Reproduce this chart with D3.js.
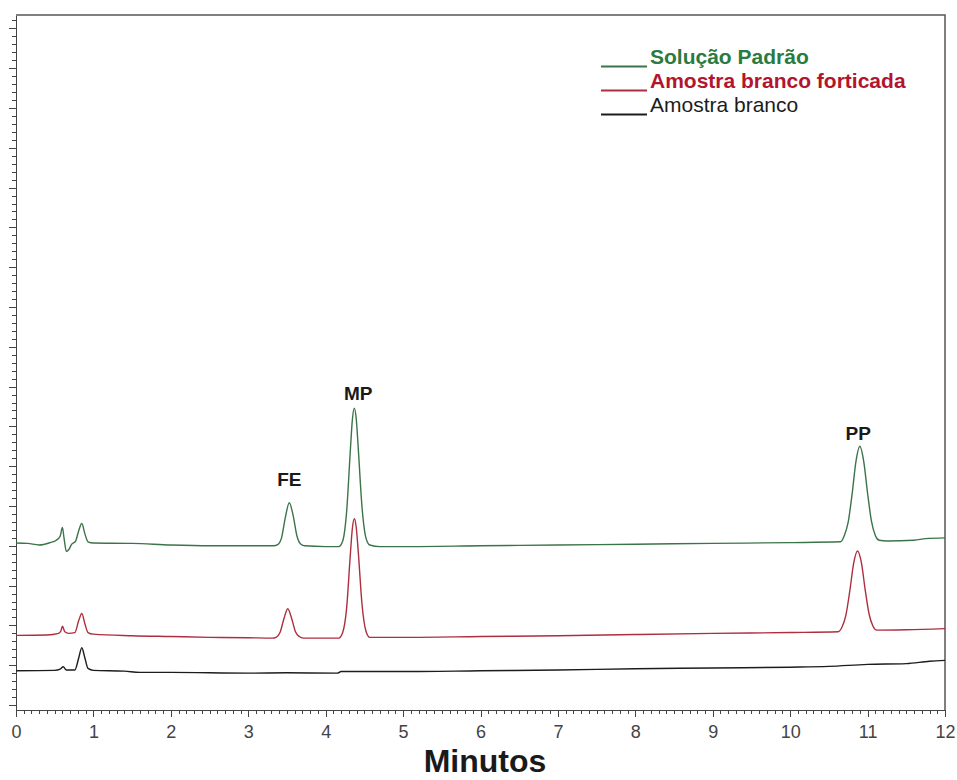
<!DOCTYPE html>
<html lang="pt">
<head>
<meta charset="utf-8">
<title>Cromatograma</title>
<script src="https://d3js.org/d3.v7.min.js"></script>
<style>
body { margin: 0; background: #fff; }
svg { display: block; font-family: "Liberation Sans", Arial, sans-serif; }
.trace { fill: none; stroke-width: 1.4; stroke-linejoin: round; }
.axis path, .axis line { stroke: #444; shape-rendering: crispEdges; }
.axis text { fill: #444; font-size: 18px; }
</style>
</head>
<body>
<script>
// time (min) / signal (arbitrary units)
var solucaoPadrao = [[0,20.35],[0.15,20.3],[0.3,20.1],[0.44,20.4],[0.52,20.7],[0.57,21.2],[0.60,22.3],[0.62,21.0],[0.65,19.3],[0.68,19.5],[0.72,20.2],[0.77,20.6],[0.81,21.9],[0.85,22.8],[0.89,21.5],[0.93,20.5],[1.0,20.35],[1.5,20.3],[2.0,20.1],[2.5,20.0],[3.0,20.0],[3.33,20.0],[3.38,20.15],[3.43,21.0],[3.48,23.6],[3.53,25.4],[3.58,23.8],[3.63,21.2],[3.68,20.2],[3.73,20.0],[4.0,19.9],[4.17,19.9],[4.22,20.6],[4.27,24.2],[4.32,32.2],[4.345,35.85],[4.37,37.3],[4.395,35.95],[4.42,32.4],[4.47,24.8],[4.52,21.0],[4.57,20.1],[4.7,19.9],[5.0,19.9],[6.0,20.0],[7.0,20.1],[8.0,20.2],[9.0,20.3],[10.0,20.4],[10.65,20.5],[10.70,21.3],[10.75,23.0],[10.80,26.5],[10.85,30.6],[10.90,32.5],[10.95,30.6],[11.00,26.6],[11.05,23.1],[11.10,21.3],[11.15,20.7],[11.25,20.6],[11.6,20.7],[11.75,20.9],[12.0,21.0]];
var brancoFortificada = [[0,8.75],[0.4,8.8],[0.55,9.0],[0.58,9.3],[0.60,9.9],[0.63,9.2],[0.68,9.0],[0.76,9.1],[0.81,10.6],[0.85,11.5],[0.89,10.2],[0.93,9.1],[1.0,8.9],[1.5,8.7],[2.0,8.6],[2.5,8.5],[3.0,8.45],[3.31,8.4],[3.36,8.5],[3.41,9.1],[3.46,10.8],[3.51,12.1],[3.56,10.9],[3.61,9.2],[3.66,8.6],[3.71,8.4],[4.0,8.4],[4.17,8.4],[4.22,9.1],[4.27,12.1],[4.32,19.1],[4.345,22.2],[4.37,23.4],[4.395,22.3],[4.42,19.4],[4.47,12.6],[4.52,9.3],[4.57,8.5],[5.0,8.5],[6.0,8.6],[7.0,8.7],[8.0,8.85],[9.0,9.0],[10.0,9.1],[10.62,9.2],[10.67,9.8],[10.72,11.3],[10.77,14.3],[10.82,17.8],[10.87,19.35],[10.92,17.9],[10.97,14.4],[11.02,11.4],[11.07,9.9],[11.12,9.4],[11.5,9.45],[12.0,9.6]];
var branco = [[0,4.3],[0.5,4.35],[0.57,4.5],[0.61,4.8],[0.65,4.4],[0.76,4.4],[0.81,5.9],[0.85,7.2],[0.89,5.9],[0.93,4.6],[1.0,4.35],[1.4,4.25],[1.6,4.1],[2.0,4.1],[3.0,4.0],[3.5,4.05],[4.15,4.0],[4.2,4.2],[5.0,4.2],[6.0,4.3],[7.0,4.4],[8.0,4.55],[9.0,4.65],[10.0,4.75],[10.5,4.85],[11.0,5.1],[11.5,5.2],[11.8,5.5],[12.0,5.6]];

var seriesNames = ["Solução Padrão", "Amostra branco forticada", "Amostra branco"];
var seriesColors = ["#3b7449", "#ad2f3f", "#1c1c1c"];
var legendColors = ["#2b7a40", "#b3142e", "#1c1c1c"];
var legendBold = [true, true, false];

var peakNames = ["FE", "MP", "PP"];
var peakTimes = [3.53, 4.42, 10.88];
var peakLabelY = [27.45, 38.3, 33.3];

var xTicks = [0,1,2,3,4,5,6,7,8,9,10,11,12];

var margin = {top: 15, right: 12, bottom: 70, left: 16},
    width = 957 - margin.left - margin.right,
    height = 780 - margin.top - margin.bottom;

var x = d3.scaleLinear().domain([0, 12]).range([0, width]);
var y = d3.scaleLinear().domain([-0.628, 86.68]).range([height, 0]);

var svg = d3.select("body").append("svg")
    .attr("width", 957)
    .attr("height", 780);

var main = svg.append("g")
    .attr("transform", "translate(" + margin.left + "," + margin.top + ")");

// frame top + right
main.append("path")
    .attr("d", "M0,0H" + width + "V" + height)
    .attr("fill", "none")
    .attr("stroke", "#555")
    .attr("stroke-width", 1.5);

// x axis: minor every 0.1 min
main.append("g")
    .attr("class", "axis")
    .attr("transform", "translate(0," + height + ")")
    .call(d3.axisBottom(x).tickValues(d3.range(0, 121).map(function (d) { return d / 10; }))
        .tickSize(4).tickFormat(""))
    .call(function (g) { g.select(".domain").remove(); });

main.append("g")
    .attr("class", "axis")
    .attr("transform", "translate(0," + height + ")")
    .call(d3.axisBottom(x).tickValues(xTicks).tickSize(7).tickPadding(5).tickFormat(d3.format("d")))
    .call(function (g) {
        g.select(".domain").attr("stroke-width", 1.5);
        g.selectAll("text").attr("dy", "0.9em");
    });

// y axis: unlabeled, minor every unit, major every 5
main.append("g")
    .attr("class", "axis")
    .call(d3.axisLeft(y).tickValues(d3.range(0, 87)).tickSize(4).tickFormat(""))
    .call(function (g) { g.select(".domain").remove(); });

main.append("g")
    .attr("class", "axis")
    .call(d3.axisLeft(y).tickValues(d3.range(0, 87, 5)).tickSize(7).tickSizeOuter(0).tickFormat(""))
    .call(function (g) { g.select(".domain").attr("stroke-width", 1.5); });

var line = d3.line()
    .x(function (d) { return x(d[0]); })
    .y(function (d) { return y(d[1]); })
    .curve(d3.curveMonotoneX);

var traces = [solucaoPadrao, brancoFortificada, branco];
main.selectAll(".trace")
    .data(traces)
    .enter().append("path")
    .attr("class", "trace")
    .attr("stroke", function (d, i) { return seriesColors[i]; })
    .attr("d", line);

// peak labels
main.selectAll(".peak")
    .data(peakNames)
    .enter().append("text")
    .attr("class", "peak")
    .attr("x", function (d, i) { return x(peakTimes[i]); })
    .attr("y", function (d, i) { return y(peakLabelY[i]); })
    .attr("text-anchor", "middle")
    .style("font-size", "19px")
    .style("font-weight", "bold")
    .style("fill", "#1a1a1a")
    .text(function (d) { return d; });

// legend
var legend = svg.append("g").attr("transform", "translate(601,64)");
var items = legend.selectAll("g")
    .data(seriesNames)
    .enter().append("g")
    .attr("transform", function (d, i) { return "translate(0," + (i * 24) + ")"; });
items.append("line")
    .attr("x1", 0).attr("x2", 46)
    .attr("y1", 2.5).attr("y2", 2.5)
    .attr("stroke", function (d, i) { return seriesColors[i]; })
    .attr("stroke-width", 2.2);
items.append("text")
    .attr("x", 49)
    .attr("y", 0)
    .style("font-size", "21px")
    .style("font-weight", function (d, i) { return legendBold[i] ? "bold" : "normal"; })
    .style("fill", function (d, i) { return legendColors[i]; })
    .text(function (d) { return d; });

// axis title
svg.append("text")
    .attr("x", 485)
    .attr("y", 772)
    .attr("text-anchor", "middle")
    .style("font-size", "32px")
    .style("font-weight", "bold")
    .style("fill", "#1a1a1a")
    .text("Minutos");
</script>
</body>
</html>
